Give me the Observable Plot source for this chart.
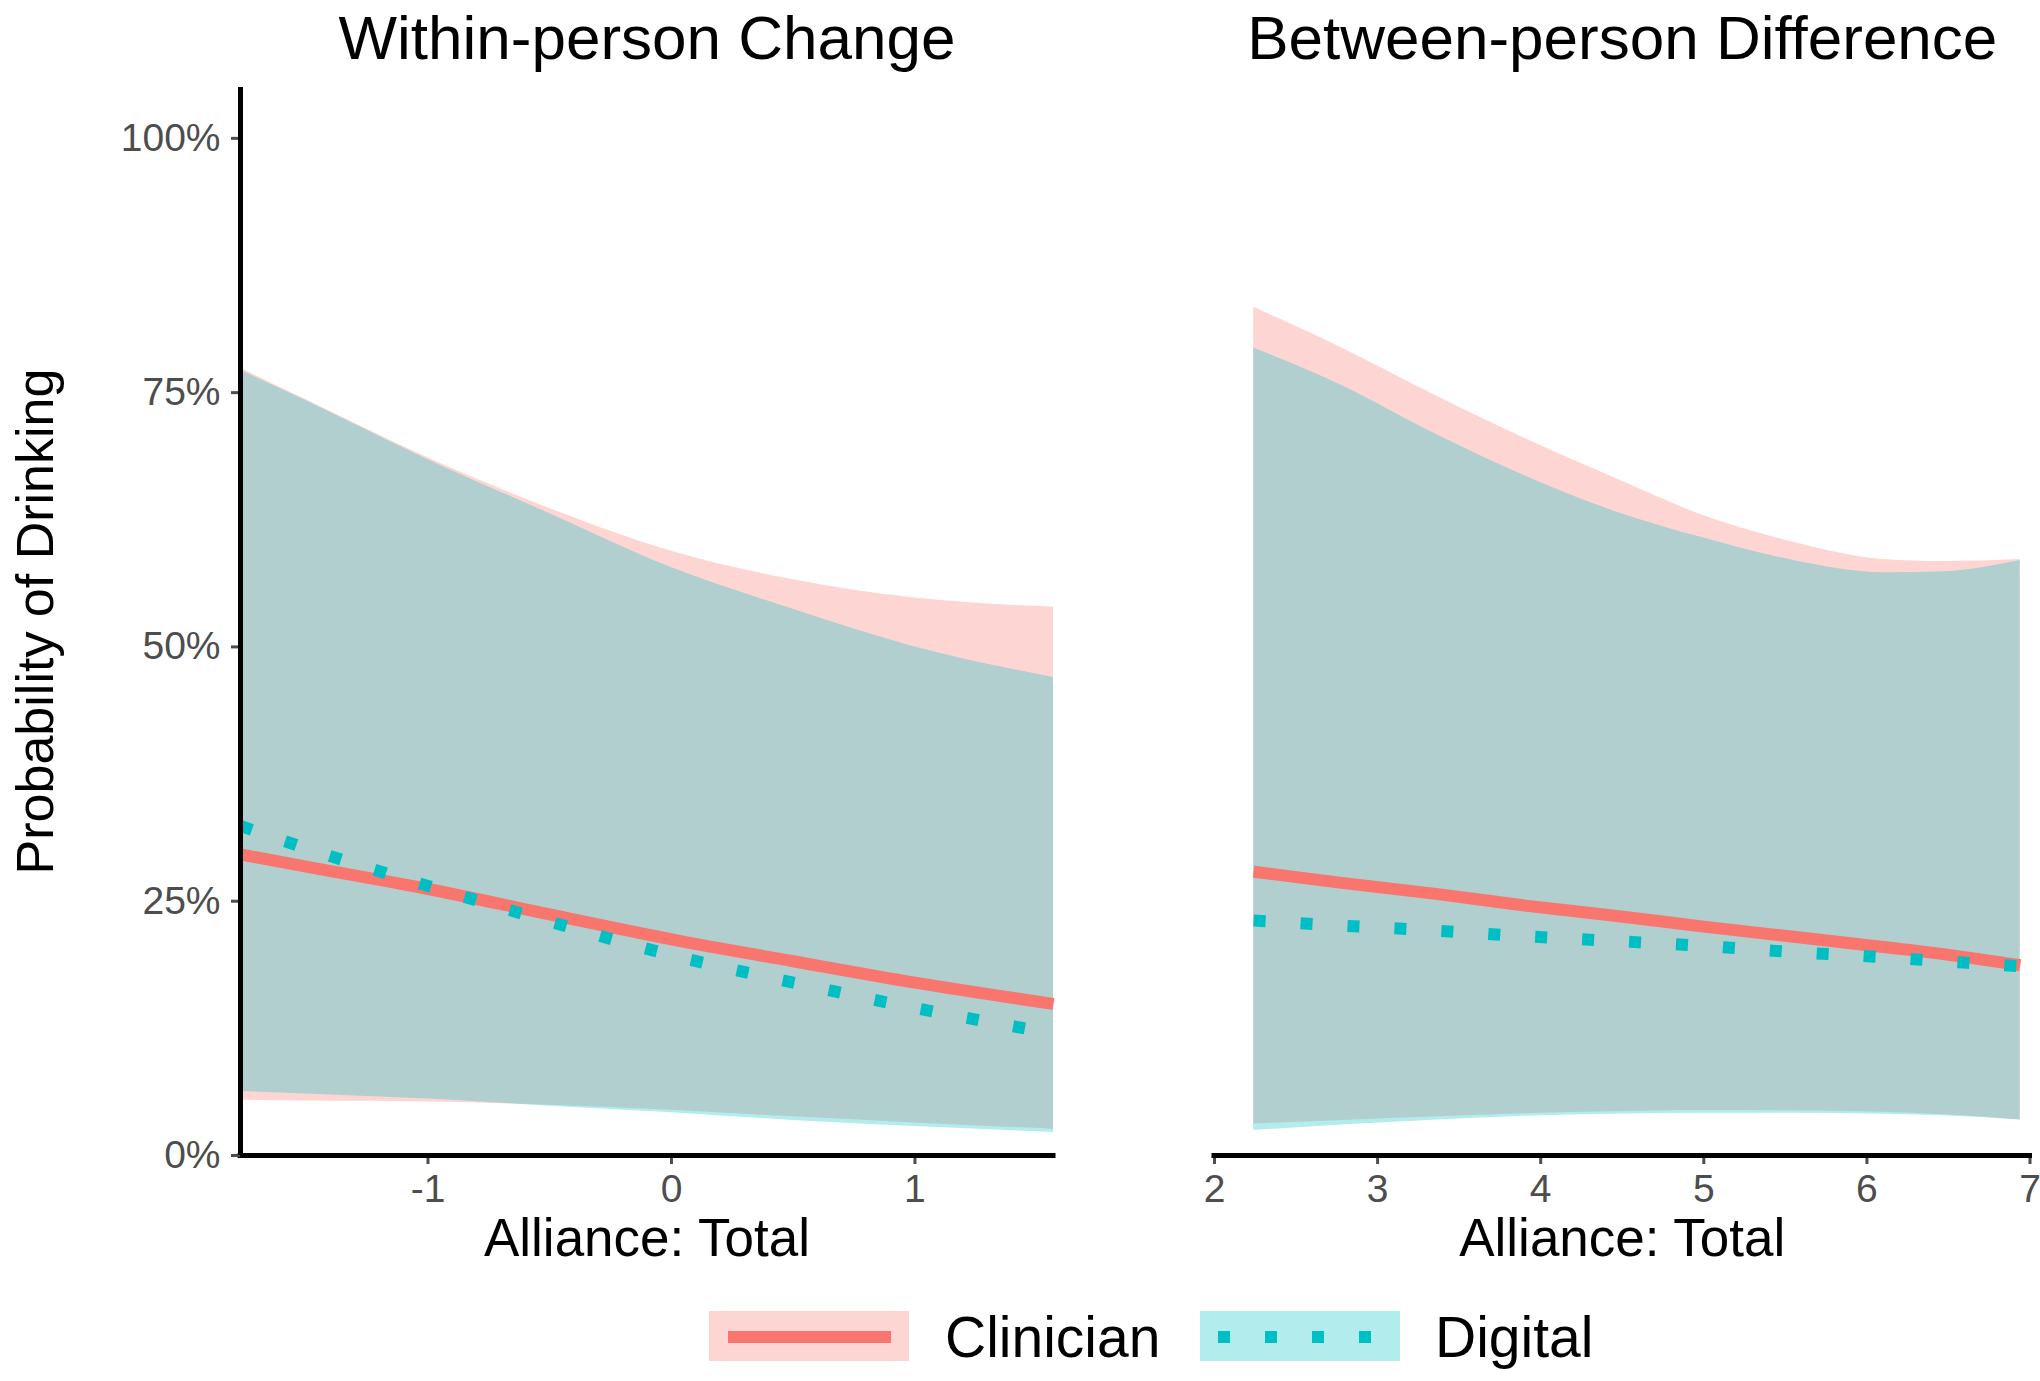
<!DOCTYPE html>
<html>
<head>
<meta charset="utf-8">
<script src="https://cdn.jsdelivr.net/npm/d3@7"></script>
<script src="https://cdn.jsdelivr.net/npm/@observablehq/plot@0.6"></script>
<style>
html, body { margin: 0; padding: 0; background: #ffffff; }
#chart { position: relative; width: 2040px; height: 1381px; overflow: hidden;
  font-family: "Liberation Sans", Arial, Helvetica, sans-serif; background: #fff; }
#left { position: absolute; left: 0; top: 0; }
#right { position: absolute; left: 1070px; top: 0; }
.key { position: absolute; top: 1311px; width: 200px; height: 50px; }
.keyline { position: absolute; left: 19px; top: 20px; width: 163px; height: 12px; background: #F8766D; }
.keydots { position: absolute; left: 18px; top: 20px; width: 154px; height: 12px;
  background: repeating-linear-gradient(to right, #00BFC4 0px, #00BFC4 12px, transparent 12px, transparent 47px); }
.lab { position: absolute; top: 1309px; font-size: 57px; line-height: 57px; color: #000; white-space: nowrap; }
</style>
</head>
<body>
<div id="chart">
  <div id="left"></div>
  <div id="right"></div>
  <div id="legend"></div>
</div>
<script>
// ---------- data ----------
const panelTitles = ["Within-person Change", "Between-person Difference"];
const xAxisTitle = "Alliance: Total";
const yAxisTitle = "Probability of Drinking";
const groups = ["Clinician", "Digital"];
const groupColors = ["#F8766D", "#00BFC4"];

const yTicks = [0, 0.25, 0.5, 0.75, 1];
const yTickLabels = ["0%", "25%", "50%", "75%", "100%"];
const leftTicks = [-1, 0, 1];
const rightTicks = [2, 3, 4, 5, 6, 7];

// Within-person panel
const leftX = [-1.77, -1.5, -1.0, -0.5, 0, 0.5, 1.0, 1.569];
const leftClinicianFit  = [0.296, 0.284, 0.262, 0.237, 0.2125, 0.191, 0.170, 0.149];
const leftClinicianLow  = [0.0543, 0.0537, 0.0527, 0.0495, 0.0445, 0.038, 0.032, 0.0258];
const leftClinicianHigh = [0.774, 0.743, 0.686, 0.636, 0.594, 0.566, 0.548, 0.539];
const leftDigitalFit    = [0.324, 0.302, 0.265, 0.230, 0.197, 0.170, 0.145, 0.120];
const leftDigitalLow    = [0.063, 0.0605, 0.0555, 0.0485, 0.042, 0.0345, 0.0285, 0.0226];
const leftDigitalHigh   = [0.772, 0.742, 0.684, 0.631, 0.578, 0.537, 0.500, 0.470];

// Between-person panel
const rightX = [2.24, 2.78, 3.37, 3.89, 4.44, 5.0, 5.55, 6.1, 6.47, 6.94];
const rightClinicianFit  = [0.279, 0.268, 0.257, 0.246, 0.236, 0.225, 0.215, 0.205, 0.198, 0.187];
const rightClinicianLow  = [0.031, 0.0345, 0.038, 0.041, 0.043, 0.0442, 0.044, 0.0425, 0.040, 0.035];
const rightClinicianHigh = [0.834, 0.794, 0.746, 0.706, 0.667, 0.629, 0.603, 0.586, 0.584, 0.586];
const rightDigitalFit    = [0.231, 0.226, 0.221, 0.2157, 0.211, 0.206, 0.200, 0.195, 0.191, 0.186];
const rightDigitalLow    = [0.0246, 0.030, 0.035, 0.0385, 0.0405, 0.0416, 0.0415, 0.0405, 0.039, 0.035];
const rightDigitalHigh   = [0.794, 0.757, 0.708, 0.669, 0.634, 0.607, 0.585, 0.573, 0.574, 0.585];

// ---------- build ----------
const FONT = '"Liberation Sans", Arial, Helvetica, sans-serif';
const rows = (xs, fit, lo, hi) => xs.map((x, i) => ({x, fit: fit[i], lo: lo[i], hi: hi[i]}));

function panel({title, clin, dig, xDomain, ticks, width, marginLeft, marginRight, showY}) {
  const H = 1290, MT = 87, MB = 135;
  const marks = [
    Plot.areaY(clin, {x: "x", y1: "lo", y2: "hi", fill: groupColors[0], fillOpacity: 0.3, curve: "monotone-x"}),
    Plot.areaY(dig, {x: "x", y1: "lo", y2: "hi", fill: groupColors[1], fillOpacity: 0.3, curve: "monotone-x"}),
    Plot.line(clin, {x: "x", y: "fit", stroke: groupColors[0], strokeWidth: 12, curve: "monotone-x", strokeLinecap: "butt"}),
    Plot.line(dig, {x: "x", y: "fit", stroke: groupColors[1], strokeWidth: 12, curve: "monotone-x",
      strokeDasharray: "12 35", strokeLinecap: "butt"}),
    Plot.axisX(ticks, {anchor: "bottom", tickSize: 9, tickPadding: 10, fontSize: 39,
      color: "#4D4D4D", strokeWidth: 3, tickFormat: d => String(d), label: null}),
    Plot.ruleY([0], {stroke: "#000", strokeWidth: 5, strokeLinecap: "square"}),
    Plot.text([xAxisTitle], {text: d => d, frameAnchor: "bottom", dy: 100, lineAnchor: "bottom",
      textAnchor: "middle", fontSize: 53, fill: "#000"}),
    Plot.text([title], {text: d => d, frameAnchor: "top", dy: -29, lineAnchor: "bottom",
      textAnchor: "middle", fontSize: 62, fill: "#000"})
  ];
  if (showY) {
    marks.push(
      Plot.axisY(yTicks, {anchor: "left", tickSize: 9, tickPadding: 11, fontSize: 39,
        color: "#4D4D4D", strokeWidth: 3, tickFormat: d => yTickLabels[yTicks.indexOf(d)], label: null}),
      Plot.ruleX([xDomain[0]], {stroke: "#000", strokeWidth: 5}),
      Plot.text([yAxisTitle], {text: d => d, frameAnchor: "left", dx: -188, rotate: -90,
        textAnchor: "middle", lineAnchor: "bottom", fontSize: 52, fill: "#000"})
    );
  }
  return Plot.plot({
    width, height: H, marginLeft, marginRight, marginTop: MT, marginBottom: MB,
    x: {domain: xDomain},
    y: {domain: [0, 1.05], axis: showY ? undefined : null},
    style: {fontFamily: FONT, background: "transparent", overflow: "visible", color: "#000"},
    marks
  });
}

document.getElementById("left").append(panel({
  title: panelTitles[0],
  clin: rows(leftX, leftClinicianFit, leftClinicianLow, leftClinicianHigh),
  dig: rows(leftX, leftDigitalFit, leftDigitalLow, leftDigitalHigh),
  xDomain: [leftX[0], leftX[leftX.length - 1]], ticks: leftTicks,
  width: 1070, marginLeft: 240, marginRight: 17, showY: true
}));

document.getElementById("right").append(panel({
  title: panelTitles[1],
  clin: rows(rightX, rightClinicianFit, rightClinicianLow, rightClinicianHigh),
  dig: rows(rightX, rightDigitalFit, rightDigitalLow, rightDigitalHigh),
  xDomain: [2, 7], ticks: rightTicks,
  width: 970, marginLeft: 144, marginRight: 10.5, showY: false
}));

// legend (below the plots)
const legend = document.getElementById("legend");
legend.innerHTML = `
  <div class="key" style="left:709px;background:#FDD6D3"><div class="keyline"></div></div>
  <div class="lab" style="left:945px">${groups[0]}</div>
  <div class="key" style="left:1200px;background:#B3ECED"><div class="keydots"></div></div>
  <div class="lab" style="left:1435px">${groups[1]}</div>`;
</script>
</body>
</html>
